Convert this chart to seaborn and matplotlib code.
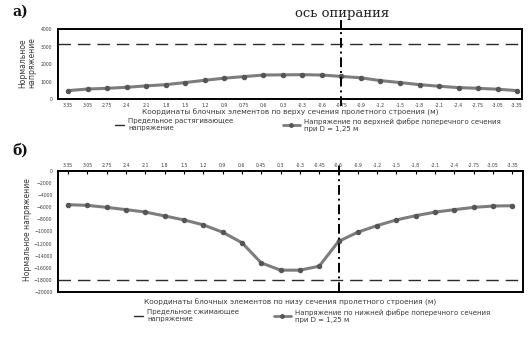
import matplotlib
matplotlib.use("Agg")
import matplotlib.pyplot as plt
from matplotlib.lines import Line2D
import seaborn as sns
import numpy as np
import pandas as pd

sns.set_theme(style="white")
plt.rcParams["font.family"] = ["DejaVu Sans"]

# --- panel a: top fibre ---
labels_top = ["3.35", "3.05", "2.75", "2.4", "2.1", "1.8", "1.5", "1.2", "0.9", "0.75",
              "0.6", "0.3", "-0.3", "-0.6", "-0.75", "-0.9", "-1.2", "-1.5", "-1.8",
              "-2.1", "-2.4", "-2.75", "-3.05", "-3.35"]
stress_top = [480, 570, 610, 670, 750, 820, 940, 1070, 1190, 1280, 1370, 1380,
              1390, 1370, 1290, 1210, 1050, 940, 820, 730, 650, 610, 560, 480]
limit_tension = 3150

# --- panel b: bottom fibre ---
labels_bottom = ["3.35", "3.05", "2.75", "2.4", "2.1", "1.8", "1.5", "1.2", "0.9", "0.6",
                 "0.45", "0.3", "-0.3", "-0.45", "-0.6", "-0.9", "-1.2", "-1.5", "-1.8",
                 "-2.1", "-2.4", "-2.75", "-3.05", "-3.35"]
stress_bottom = [-5570, -5680, -6010, -6390, -6780, -7430, -8090, -8900, -10110, -11850,
                 -15190, -16390, -16390, -15740, -11640, -10110, -9020, -8080, -7380,
                 -6800, -6390, -6010, -5790, -5740]
limit_compression = -18000

support_index = 14

W, H = 528, 340
fig = plt.figure(figsize=(W / 100, H / 100), dpi=100)
fig.patch.set_facecolor("white")

def frac(x0, y0, x1, y1):
    return [x0 / W, 1 - y1 / H, (x1 - x0) / W, (y1 - y0) / H]

ax_a = fig.add_axes(frac(58, 29, 522, 99))
ax_b = fig.add_axes(frac(58, 171, 523, 292))

txt = "#3a3a3a"
line_col = "#7d7d7d"
mk_col = "#555555"
dash_col = "#2a2a2a"

df_a = pd.DataFrame({"i": np.arange(len(stress_top)), "v": stress_top})
df_b = pd.DataFrame({"i": np.arange(len(stress_bottom)), "v": stress_bottom})

for ax, df, lim, labels in [(ax_a, df_a, limit_tension, labels_top),
                            (ax_b, df_b, limit_compression, labels_bottom)]:
    ax.axhline(lim, color=dash_col, lw=1.0, ls=(0, (9, 5)))
    sns.lineplot(data=df, x="i", y="v", ax=ax, color=line_col, lw=2.2,
                 marker="o", markersize=3.2, markerfacecolor=mk_col,
                 markeredgecolor=mk_col)
    ax.set_xticks(np.arange(len(labels)))
    ax.set_xticklabels(labels)
    for s in ax.spines.values():
        s.set_color("black")
        s.set_linewidth(1.4)
    ax.tick_params(axis="both", labelsize=3.3, colors=txt, length=2, width=0.5,
                   pad=2, direction="out")
    ax.tick_params(axis="x", color="black")
    ax.set_ylabel("")
    ax.set_xlabel("")

# panel a axes
ax_a.set_xlim(-0.52, 23.25)
ax_a.set_ylim(0, 4000)
ax_a.set_yticks([0, 1000, 2000, 3000, 4000])
ax_a.tick_params(axis="x", pad=1.2)
fig.text(290 / W, 1 - 112 / H,
         "Координаты блочных элементов по верху сечения пролетного строения (м)",
         fontsize=5.3, color=txt, ha="center", va="center")
fig.text(27 / W, 1 - 63 / H, "Нормальное\nнапряжение", rotation=90, fontsize=5.5,
         color=txt, ha="center", va="center", linespacing=1.0)

# panel b axes
ax_b.set_xlim(-0.52, 23.55)
ax_b.set_ylim(-20000, 0)
ax_b.set_yticks(np.arange(-20000, 1, 2000))
ax_b.xaxis.tick_top()
ax_b.tick_params(axis="x", direction="in", length=2.5, width=0.8)
fig.text(290 / W, 1 - 302 / H,
         "Координаты блочных элементов по низу сечения пролетного строения (м)",
         fontsize=5.3, color=txt, ha="center", va="center")
fig.text(28 / W, 1 - 230 / H, "Нормальное напряжение", rotation=90, fontsize=5.5,
         color=txt, ha="center", va="center")

# support axis, crossing both panels
ax_a.plot([support_index, support_index], [-0.1, 1.13], transform=ax_a.get_xaxis_transform(),
          color="black", lw=1.4, ls=(0, (5, 2, 1, 2)), clip_on=False, zorder=5)
ax_b.plot([support_index, support_index], [0.0, 1.06], transform=ax_b.get_xaxis_transform(),
          color="black", lw=1.4, ls=(0, (5, 2, 1, 2)), clip_on=False, zorder=5)
fig.text(342 / W, 1 - 13 / H, "ось опирания", fontsize=9.5, family="DejaVu Serif",
         ha="center", va="center", color="#222222")

# panel letters
fig.text(12 / W, 1 - 12 / H, "а)", fontsize=10, family="DejaVu Serif", weight="bold",
         ha="left", va="center", color="#111111")
fig.text(12 / W, 1 - 151 / H, "б)", fontsize=10, family="DejaVu Serif", weight="bold",
         ha="left", va="center", color="#111111")

# legends
def legend_entry(x, y, handle, text, hlen):
    leg = fig.legend([handle], [text], loc="upper left",
                     bbox_to_anchor=(x / W, 1 - y / H), frameon=False,
                     fontsize=5.0, handlelength=hlen, handletextpad=0.6,
                     borderpad=0, borderaxespad=0, labelcolor=txt)
    return leg

dash_h = Line2D([], [], color=dash_col, lw=1.0, ls="-")
ser_h = Line2D([], [], color=line_col, lw=2.0, marker="o", markersize=2.5,
               markerfacecolor=mk_col, markeredgecolor=mk_col)

legend_entry(115, 118, dash_h, "Предельное растягивающее\nнапряжение", 1.3)
legend_entry(283, 118, ser_h, "Напряжение по верхней фибре поперечного сечения\nпри D = 1,25 м", 2.4)
legend_entry(134, 309, dash_h, "Предельное сжимающее\nнапряжение", 1.3)
legend_entry(274, 309, ser_h, "Напряжение по нижней фибре поперечного сечения\nпри D = 1,25 м", 2.4)

fig.savefig("out.png", dpi=100, facecolor="white")
